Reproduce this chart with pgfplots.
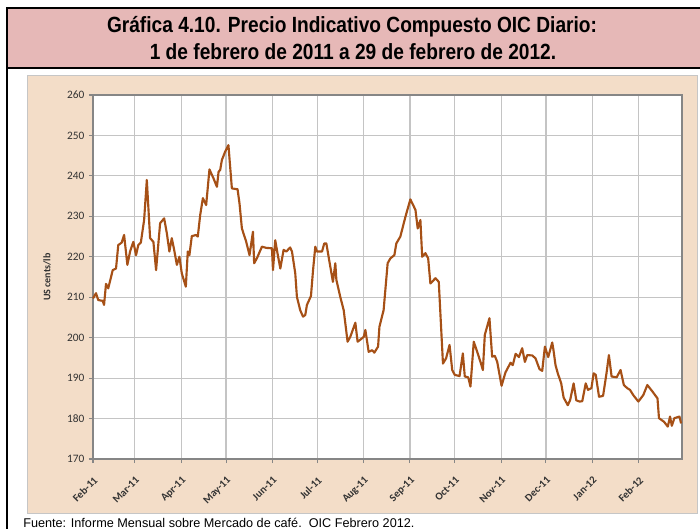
\documentclass[border=0pt]{standalone}
\usepackage{fontspec}
\setmainfont{Liberation Sans}
\newfontfamily\narrowfont[FakeStretch=0.87]{Liberation Sans}
\newfontfamily\calibri{Carlito}
\usepackage{pgfplots}
\pgfplotsset{compat=1.18}
\definecolor{titlepink}{RGB}{230,184,183}
\definecolor{panel}{RGB}{243,221,200}
\definecolor{coffee}{RGB}{166,80,22}
\definecolor{gridgray}{RGB}{196,196,196}
\definecolor{axisgray}{RGB}{134,134,134}
\definecolor{ticktext}{RGB}{50,50,50}

% day = days since 1 Feb 2011, price in US cents/lb
\pgfplotstableread{
day price
0 209.7
2.0 211.0
3.5 209.3
6.5 209.1
7.4 208.1
8.7 213.3
10.2 212.2
13.2 216.7
15.4 217.1
16.9 222.9
19.2 223.5
20.8 225.4
23.0 218.0
24.8 221.3
27.0 223.7
28.8 220.4
30.3 222.9
32.0 223.5
34.2 229.1
36.0 239.0
37.0 232.4
38.2 224.6
40.4 223.7
42.2 216.7
44.9 228.3
47.6 229.5
49.4 225.8
51.1 221.3
52.7 224.6
54.3 221.7
56.1 218.0
57.8 220.0
59.4 215.9
62.1 212.6
63.4 221.3
64.5 220.4
66.1 225.1
69.0 225.4
70.1 225.0
71.7 230.3
73.5 234.5
75.7 232.8
77.9 241.6
80.6 239.4
82.9 237.3
84.0 241.0
85.1 241.5
86.2 243.9
88.4 246.0
90.6 247.6
92.9 236.9
96.7 236.7
98.0 233.2
99.6 227.0
102.5 223.7
104.7 220.4
107.0 226.2
107.8 218.4
109.6 219.6
113.0 222.5
115.9 222.2
119.7 222.1
120.4 216.7
121.9 224.1
123.4 220.9
125.3 217.1
127.5 221.7
129.3 221.3
131.9 222.3
133.1 221.3
135.3 215.9
136.4 210.1
138.6 206.8
140.5 205.2
142.0 205.6
143.1 208.1
145.8 210.3
147.2 216.7
148.7 222.5
149.8 221.3
153.2 221.3
154.7 223.3
156.1 223.3
157.6 220.0
160.5 213.8
162.1 218.4
162.8 214.3
165.4 210.1
167.7 206.8
170.3 199.0
172.1 200.2
175.5 203.7
177.0 199.0
178.8 199.5
181.1 200.2
182.2 201.9
184.4 196.5
186.7 196.9
188.2 196.3
190.7 197.8
191.6 202.7
194.4 206.8
197.1 218.4
198.9 219.6
201.6 220.4
202.9 223.3
205.6 225.0
209.0 229.9
212.3 234.2
215.7 231.6
217.2 227.0
219.0 229.1
220.2 220.0
222.4 220.9
224.2 219.6
225.7 213.4
229.1 214.7
231.3 213.8
234.1 193.6
236.2 194.9
238.5 198.2
240.3 192.0
242.0 190.8
245.2 190.5
247.4 196.1
248.7 190.4
251.0 190.2
252.5 187.9
254.7 199.0
257.0 196.5
259.2 194.0
260.8 192.0
262.1 200.7
265.2 204.8
267.0 195.3
268.8 195.5
270.4 194.0
273.3 188.1
275.9 191.4
279.3 193.8
280.8 193.2
282.7 196.0
284.9 195.2
287.1 197.4
288.9 194.0
290.5 195.7
293.8 195.6
296.0 194.9
298.7 192.2
300.5 191.8
302.3 197.8
304.5 195.2
307.2 198.8
308.0 197.0
309.4 193.2
310.9 191.2
313.2 188.7
314.8 185.2
317.6 183.3
319.2 184.6
321.5 188.7
323.3 184.5
325.5 184.2
327.3 184.3
329.6 188.7
331.1 187.1
333.4 187.5
334.9 191.2
336.3 190.8
338.5 185.4
341.2 185.6
343.5 191.2
345.1 195.7
346.9 190.4
350.3 190.2
352.9 192.0
355.1 188.3
357.4 187.5
359.2 187.1
361.4 185.8
364.8 184.2
368.1 185.8
370.8 188.3
374.2 186.7
377.6 185.0
378.6 180.1
382.0 179.2
384.5 178.0
386.0 180.5
387.2 178.2
388.9 180.1
392.3 180.5
393.4 178.8
}\oicdata

\begin{document}
\begin{tikzpicture}[x=0.75pt,y=0.75pt]
\path[use as bounding box] (0,0) rectangle (700,529);
% chart panel
\filldraw[fill=panel,draw=gray!45] (27,16) rectangle (697,454);
% title box
\fill[titlepink] (7,461) rectangle (700,521);
\draw[black,line width=1.3pt] (700,521) -- (7,521) -- (7,0);
\draw[black,line width=1.3pt] (7,461) -- (700,461);
\node[anchor=base,font=\narrowfont\bfseries\fontsize{16.5}{19}\selectfont] at (352,496) {Gráfica 4.10. Precio Indicativo Compuesto OIC Diario:};
\node[anchor=base,font=\narrowfont\bfseries\fontsize{16.5}{19}\selectfont] at (353,469) {1 de febrero de 2011 a 29 de febrero de 2012.};
% source
\node[anchor=base west,font=\fontsize{9.5}{11}\selectfont,inner sep=0pt] at (23,2) {Fuente: Informe Mensual sobre Mercado de café.\ \ OIC Febrero 2012.};
\begin{axis}[
  at={(69.75pt,52.5pt)}, anchor=south west,
  scale only axis, width=441.75pt, height=273pt,
  xmin=0, xmax=394, ymin=170, ymax=260,
  xtick={0,28,59,89,120,150,181,212,242,273,303,334,365},
  xticklabels={Feb-11,Mar-11,Apr-11,May-11,Jun-11,Jul-11,Aug-11,Sep-11,Oct-11,Nov-11,Dec-11,Jan-12,Feb-12},
  ytick={170,180,...,260},
  grid=major, grid style={gridgray,line width=0.9pt},
  axis line style={axisgray,line width=1pt},
  axis background/.style={fill=white},
  tick style={axisgray,line width=0.8pt},
  major tick length=3pt, tick align=outside,
  xtick pos=bottom, ytick pos=left,
  xticklabel shift=8pt,
  x tick label style={font=\calibri\bfseries\fontsize{8}{9}\selectfont,text=ticktext,rotate=45,anchor=north east,inner sep=1pt},
  y tick label style={font=\calibri\fontsize{8.5}{10}\selectfont,text=ticktext},
  ylabel={US cents/lb},
  ylabel style={font=\calibri\bfseries\fontsize{7.5}{9}\selectfont,text=ticktext,at={(axis description cs:-0.078,0.5)},anchor=center},
  /pgf/number format/assume math mode=true,
  clip=false,
]
\addplot[coffee,line width=1.6pt,line join=round] table[x=day,y=price] {\oicdata};
\end{axis}
\end{tikzpicture}
\end{document}
